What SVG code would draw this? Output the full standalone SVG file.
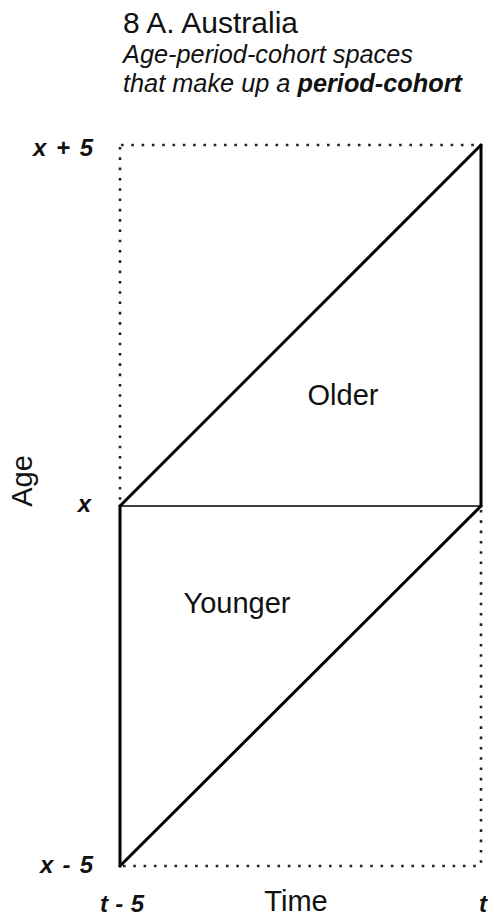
<svg xmlns="http://www.w3.org/2000/svg" width="494" height="921" viewBox="0 0 494 921">
<style>
.t{font-family:"Liberation Sans",Arial,sans-serif;fill:#111}
.lab{font-family:"Liberation Sans",Arial,sans-serif;font-weight:bold;font-style:italic;font-size:24px;fill:#111}
.dot{stroke:#222;stroke-width:2.6;stroke-dasharray:2.6 7.7;fill:none}
.thick{stroke:#000;stroke-width:3;fill:none;stroke-linecap:round}
.thin{stroke:#000;stroke-width:1.5;fill:none}
</style>
<rect width="494" height="921" fill="#fff"/>
<g id="title">
<text class="t" x="123" y="33" font-size="29" textLength="175" lengthAdjust="spacingAndGlyphs">8 A. Australia</text>
<text class="t" x="123" y="63" font-size="25" font-style="italic" textLength="290" lengthAdjust="spacingAndGlyphs">Age-period-cohort spaces</text>
<text class="t" x="123" y="92" font-size="25" font-style="italic" textLength="339" lengthAdjust="spacingAndGlyphs">that make up a <tspan font-weight="bold">period-cohort</tspan></text>
</g>
<g id="connectors">
<line class="dot" x1="121" y1="145" x2="481" y2="145"/>
<line class="dot" x1="120" y1="147" x2="120" y2="506"/>
<line class="dot" x1="481" y1="510" x2="481" y2="866"/>
<line class="dot" x1="123" y1="866" x2="481" y2="866"/>
<line class="thin" x1="120" y1="506" x2="481" y2="506"/>
<line class="thick" x1="120" y1="506" x2="481" y2="145"/>
<line class="thick" x1="481" y1="145" x2="481" y2="506"/>
<line class="thick" x1="120" y1="506" x2="120" y2="866"/>
<line class="thick" x1="120" y1="866" x2="481" y2="506"/>
</g>
<g id="older"><text class="t" x="343" y="405" font-size="29" text-anchor="middle">Older</text></g>
<g id="younger"><text class="t" x="237" y="613" font-size="29" text-anchor="middle">Younger</text></g>
<g id="axis-labels">
<text class="t" font-size="29" text-anchor="middle" transform="translate(32,481) rotate(-90)">Age</text>
<text class="t" x="296" y="911" font-size="29" text-anchor="middle">Time</text>
<text class="lab" x="33" y="156" textLength="60" lengthAdjust="spacing">x + 5</text>
<text class="lab" x="91" y="512" text-anchor="end">x</text>
<text class="lab" x="40" y="873" textLength="53" lengthAdjust="spacing">x - 5</text>
<text class="lab" x="100" y="912" textLength="44" lengthAdjust="spacing">t - 5</text>
<text class="lab" x="483" y="912" text-anchor="middle">t</text>
</g>
</svg>
